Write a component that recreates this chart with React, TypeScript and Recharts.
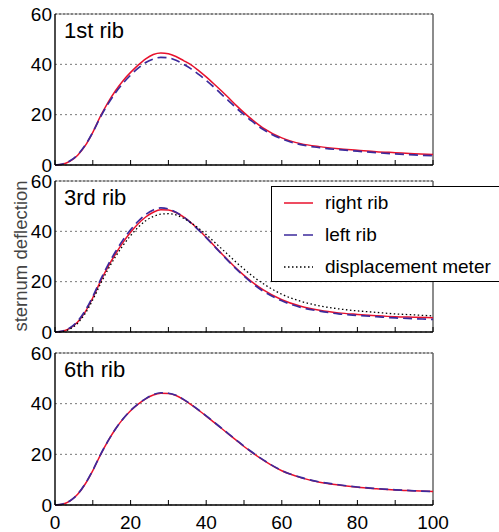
import React from 'react';
import { LineChart, Line, XAxis, YAxis, CartesianGrid, ReferenceLine, Legend } from 'recharts';

const FONT = '"Liberation Sans", Arial, Helvetica, sans-serif';
const RED = '#e8112d';
const BLUE = '#3c2a9c';

// time axis (shared by every panel)
const xValues = [0, 2, 4, 6, 8, 10, 12, 14, 16, 18, 20, 22, 24, 26, 28, 30, 32, 34, 36, 38, 40, 42, 44, 46, 48, 50, 52, 55, 60, 65, 70, 75, 80, 85, 90, 95, 100];
const xTicks = [0, 10, 20, 30, 40, 50, 60, 70, 80, 90, 100];
const yTicks = [0, 20, 40, 60];

// 1st rib
const rib1Right = [0, 0.3, 1.5, 3.9, 7.7, 13, 19.3, 24.8, 29.5, 33.5, 36.8, 39.7, 42.2, 43.9, 44.5, 44.2, 43.1, 41.5, 39.8, 37.5, 35, 32.3, 29.5, 26.6, 23.6, 20.8, 18.2, 14.8, 10.8, 8.5, 7.3, 6.5, 5.9, 5.3, 4.9, 4.5, 4.2];
const rib1Left = [0, 0.4, 1.7, 4.1, 7.9, 13, 19, 24.2, 28.7, 32.5, 35.7, 38.5, 40.7, 42.1, 42.8, 42.6, 41.6, 40, 38.2, 36, 33.6, 31, 28.2, 25.4, 22.6, 20, 17.5, 14.2, 10.4, 8.1, 6.9, 6.1, 5.5, 4.9, 4.4, 4, 3.7];

// 3rd rib
const rib3Right = [0, 0.3, 1.5, 4, 8, 13.6, 20, 25.9, 31, 35.6, 39.6, 43, 45.7, 47.6, 48.6, 48.5, 47.5, 45.7, 43.4, 40.6, 37.6, 34.5, 31.3, 28.2, 25.2, 22.5, 20, 16.8, 12.8, 10.2, 8.6, 7.6, 7, 6.5, 6.1, 5.9, 5.7];
const rib3Left = [0, 0.4, 1.7, 4.3, 8.5, 14.1, 20.6, 26.6, 31.9, 36.6, 40.6, 44, 46.7, 48.5, 49.3, 48.9, 47.6, 45.7, 43.3, 40.5, 37.5, 34.3, 31.1, 28, 25, 22.2, 19.6, 16.3, 12.4, 9.8, 8.3, 7.2, 6.6, 6.1, 5.6, 5.3, 5];
const rib3Meter = [0, 0.2, 1.2, 3.5, 7.4, 12.8, 19, 24.8, 29.9, 34.4, 38.3, 41.6, 44.2, 45.9, 46.8, 47, 46.5, 45.2, 43.4, 41.2, 38.7, 36, 33.2, 30.4, 27.6, 25, 22.5, 19.3, 15, 12.2, 10.4, 9.2, 8.4, 7.8, 7.2, 6.8, 6.4];

// 6th rib
const rib6Right = [0, 0.3, 1.6, 4.2, 8.3, 13.6, 19.7, 25.2, 30, 34, 37.2, 39.8, 41.9, 43.4, 44.1, 44, 43.2, 41.6, 39.6, 37.4, 35.1, 32.7, 30.3, 27.9, 25.5, 23.1, 20.9, 17.8, 13.5, 10.8, 9, 7.9, 7, 6.4, 5.9, 5.6, 5.3];
const rib6Left = [0, 0.4, 1.7, 4.3, 8.4, 13.7, 19.8, 25.2, 30, 34, 37.3, 39.9, 42, 43.6, 44.3, 44.1, 43.3, 41.7, 39.7, 37.5, 35.2, 32.8, 30.4, 28, 25.6, 23.2, 21, 17.9, 13.6, 10.9, 9.1, 8, 7.1, 6.5, 6, 5.6, 5.3];

type SeriesDef = { name: string; stroke: string; dash?: string; legendDash?: string; width: number };

const seriesDefs: Record<string, SeriesDef> = {
  right: { name: 'right rib', stroke: RED, width: 1.5 },
  left: { name: 'left rib', stroke: BLUE, dash: '9 5', legendDash: '13 6', width: 1.7 },
  meter: { name: 'displacement meter', stroke: '#000', dash: '1.5 2.5', legendDash: '1.5 2.5', width: 1.3 },
};
const legendOrder = ['right', 'left', 'meter'];

function makeRows(series: Record<string, number[]>) {
  return xValues.map((x, i) => {
    const row: Record<string, number> = { x };
    for (const k of Object.keys(series)) row[k] = series[k][i];
    return row;
  });
}

function XTick(props: any) {
  const { x, y, payload, showLabel } = props;
  const v = payload.value;
  return (
    <g>
      <line x1={x} x2={x} y1={y} y2={y - 5} stroke="#000" strokeWidth={1} />
      {showLabel && v % 20 === 0 && (
        <text x={x} y={y + 24} textAnchor="middle" fontSize={19} fontFamily={FONT} fill="#000">
          {v}
        </text>
      )}
    </g>
  );
}

function LegendBox() {
  return (
    <div
      style={{
        width: 240,
        height: 96,
        boxSizing: 'border-box',
        border: '1.5px solid #000',
        background: '#fff',
        position: 'relative',
        fontFamily: FONT,
        fontSize: 19,
        color: '#000',
      }}
    >
      {legendOrder.map((k, i) => {
        const s = seriesDefs[k];
        return (
          <div key={k} style={{ position: 'absolute', left: 0, top: i * 32, height: 32, display: 'flex', alignItems: 'center', whiteSpace: 'nowrap' }}>
            <svg width={53} height={32} style={{ display: 'block' }}>
              <line x1={12} x2={41} y1={16} y2={16} stroke={s.stroke} strokeWidth={s.width} strokeDasharray={s.legendDash} />
            </svg>
            <span>{s.name}</span>
          </div>
        );
      })}
    </div>
  );
}

type PanelProps = {
  title: string;
  series: Record<string, number[]>;
  top: number;
  height: number;
  xAxisHeight: number;
  showLabels?: boolean;
  showLegend?: boolean;
  legendTop?: number;
};

function Panel({ title, series, top, height, xAxisHeight, showLabels, showLegend, legendTop }: PanelProps) {
  const rows = makeRows(series);
  return (
    <div style={{ position: 'absolute', left: 0, top, width: 499, height }}>
      <LineChart width={499} height={height} data={rows} margin={{ top: 14, right: 66, bottom: 0, left: 0 }}>
        <CartesianGrid vertical={false} stroke="#777" strokeDasharray="2 3" />
        <XAxis
          dataKey="x"
          type="number"
          domain={[0, 100]}
          ticks={xTicks}
          interval={0}
          height={xAxisHeight}
          tickLine={false}
          tickSize={0}
          tickMargin={0}
          axisLine={{ stroke: '#000', strokeWidth: 1.4 }}
          tick={(p: any) => <XTick {...p} showLabel={showLabels} />}
        />
        <YAxis
          type="number"
          domain={[0, 60]}
          ticks={yTicks}
          interval={0}
          width={55}
          tickLine={false}
          tickSize={0}
          tickMargin={3}
          axisLine={{ stroke: '#000', strokeWidth: 1.4 }}
          tick={{ fontSize: 19, fill: '#000', fontFamily: FONT }}
        />
        <ReferenceLine y={60} stroke="#bbb" strokeWidth={1.5} />
        <ReferenceLine y={60} stroke="#444" strokeDasharray="2 2" />
        <ReferenceLine x={100} stroke="#666" strokeWidth={1.5} />
        {Object.keys(series).map((k) => (
          <Line
            key={k}
            dataKey={k}
            name={seriesDefs[k].name}
            type="monotone"
            stroke={seriesDefs[k].stroke}
            strokeWidth={seriesDefs[k].width}
            strokeDasharray={seriesDefs[k].dash}
            dot={false}
            activeDot={false}
            isAnimationActive={false}
          />
        ))}
        {showLegend && (
          <Legend
            layout="horizontal"
            verticalAlign="middle"
            align="center"
            wrapperStyle={{ left: 271, top: legendTop, width: 240 }}
            content={() => <LegendBox />}
          />
        )}
      </LineChart>
      <svg style={{ position: 'absolute', left: 0, top: 0, pointerEvents: 'none' }} width={499} height={height}>
        <text x={64} y={38} fontSize={22} fontFamily={FONT} fill="#000">
          {title}
        </text>
      </svg>
    </div>
  );
}

export default function App() {
  return (
    <div style={{ position: 'absolute', left: 0, top: 0, width: 499, height: 532, overflow: 'hidden', background: '#fff' }}>
      <Panel title="1st rib" series={{ right: rib1Right, left: rib1Left }} top={0} height={180} xAxisHeight={15} />
      <Panel
        title="3rd rib"
        series={{ right: rib3Right, left: rib3Left, meter: rib3Meter }}
        top={167}
        height={180}
        xAxisHeight={15}
        showLegend
        legendTop={19}
      />
      <Panel title="6th rib" series={{ right: rib6Right, left: rib6Left }} top={339} height={193} xAxisHeight={27} showLabels />
      <svg style={{ position: 'absolute', left: 0, top: 0, pointerEvents: 'none' }} width={499} height={532}>
        <text x={27} y={256} fontSize={18.5} fontFamily={FONT} fill="#444" textAnchor="middle" transform="rotate(-90 27 256)">
          sternum deflection
        </text>
      </svg>
    </div>
  );
}
